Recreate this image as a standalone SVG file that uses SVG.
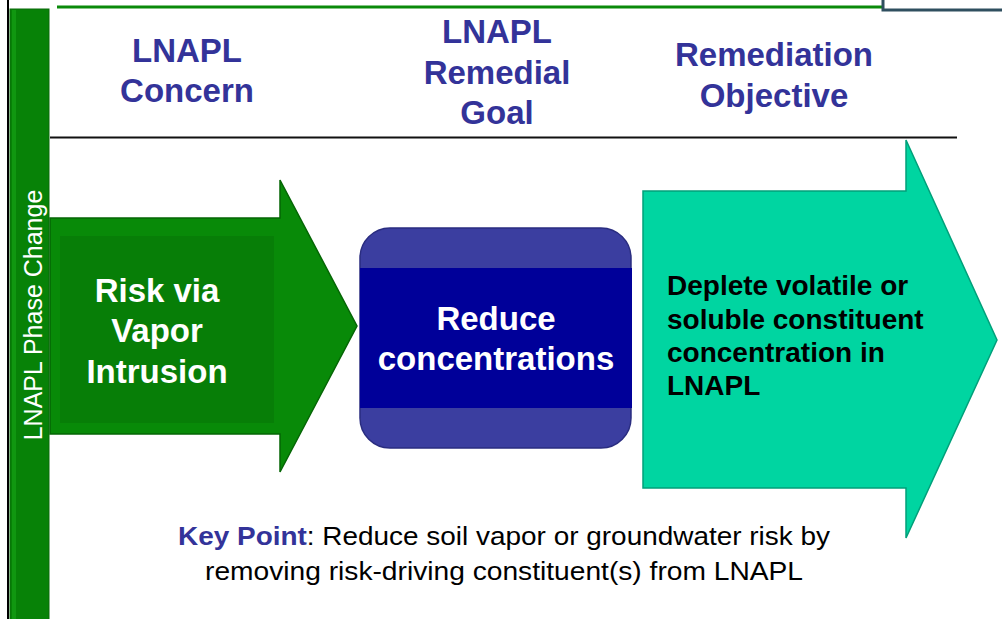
<svg xmlns="http://www.w3.org/2000/svg" width="1002" height="619" viewBox="0 0 1002 619">
<defs>
<style>
.hdr{font-family:"Liberation Sans",Arial,sans-serif;font-weight:bold;font-size:33px;fill:#333399;text-anchor:middle}
.wt{font-family:"Liberation Sans",Arial,sans-serif;font-weight:bold;font-size:33px;fill:#ffffff;text-anchor:middle}
.bt{font-family:"Liberation Sans",Arial,sans-serif;font-weight:bold;font-size:28px;fill:#000000}
.kp{font-family:"Liberation Sans",Arial,sans-serif;font-size:25px;fill:#000000;text-anchor:middle}
.side{font-family:"Liberation Sans",Arial,sans-serif;font-size:25px;fill:#ffffff;text-anchor:middle}
</style>
</defs>
<rect width="1002" height="619" fill="#ffffff"/>
<g id="frame">
<line x1="8" y1="0" x2="8" y2="619" stroke="#000000" stroke-width="2"/>
<line x1="57" y1="7" x2="885" y2="7" stroke="#0a8a0a" stroke-width="3"/>
<rect x="883" y="-4" width="125" height="14" fill="#ffffff" stroke="#2f4f5f" stroke-width="3"/>
<line x1="50" y1="137.5" x2="957" y2="137.5" stroke="#111111" stroke-width="2"/>
</g>
<g id="side-bar">
<rect x="10" y="9" width="39" height="615" fill="#078207" stroke="#0a6a0a" stroke-width="1"/>
<rect x="12" y="10" width="4" height="610" fill="#18a518" opacity="0.6"/>
<text class="side" transform="translate(42,315) rotate(-90)">LNAPL Phase Change</text>
</g>
<g id="headers">
<text class="hdr" x="187" y="62">LNAPL</text>
<text class="hdr" x="187" y="102">Concern</text>
<text class="hdr" x="497" y="43">LNAPL</text>
<text class="hdr" x="497" y="84">Remedial</text>
<text class="hdr" x="497" y="124">Goal</text>
<text class="hdr" x="774" y="66">Remediation</text>
<text class="hdr" x="774" y="107">Objective</text>
</g>
<g id="node-concern">
<path d="M50,218 L280,218 L280,180 L357,326 L280,472 L280,434 L50,434 Z" fill="#088a08" stroke="#056605" stroke-width="1.5"/>
<rect x="60" y="236" width="214" height="187" fill="#077e07"/>
<text class="wt" x="157" y="302">Risk via</text>
<text class="wt" x="157" y="342">Vapor</text>
<text class="wt" x="157" y="383">Intrusion</text>
</g>
<g id="node-goal">
<rect x="360" y="228" width="271" height="220" rx="30" ry="30" fill="#3b3ea0" stroke="#2a2d80" stroke-width="1.5"/>
<rect x="360" y="268" width="272" height="140" fill="#000099"/>
<text class="wt" x="496" y="330">Reduce</text>
<text class="wt" x="496" y="370">concentrations</text>
</g>
<g id="node-objective">
<path d="M643,191 L906,191 L906,140 L997,340 L906,538 L906,488 L643,488 Z" fill="#00d5a1" stroke="#00a07a" stroke-width="1.5"/>
<text class="bt" x="667" y="295">Deplete volatile or</text>
<text class="bt" x="667" y="329">soluble constituent</text>
<text class="bt" x="667" y="362">concentration in</text>
<text class="bt" x="667" y="395">LNAPL</text>
</g>
<g id="connectors"></g>
<g id="key-point">
<text class="kp" x="504" y="545" textLength="652" lengthAdjust="spacingAndGlyphs"><tspan fill="#333399" font-weight="bold">Key Point</tspan>: Reduce soil vapor or groundwater risk by</text>
<text class="kp" x="504" y="580" textLength="598" lengthAdjust="spacingAndGlyphs">removing risk-driving constituent(s) from LNAPL</text>
</g>
</svg>
